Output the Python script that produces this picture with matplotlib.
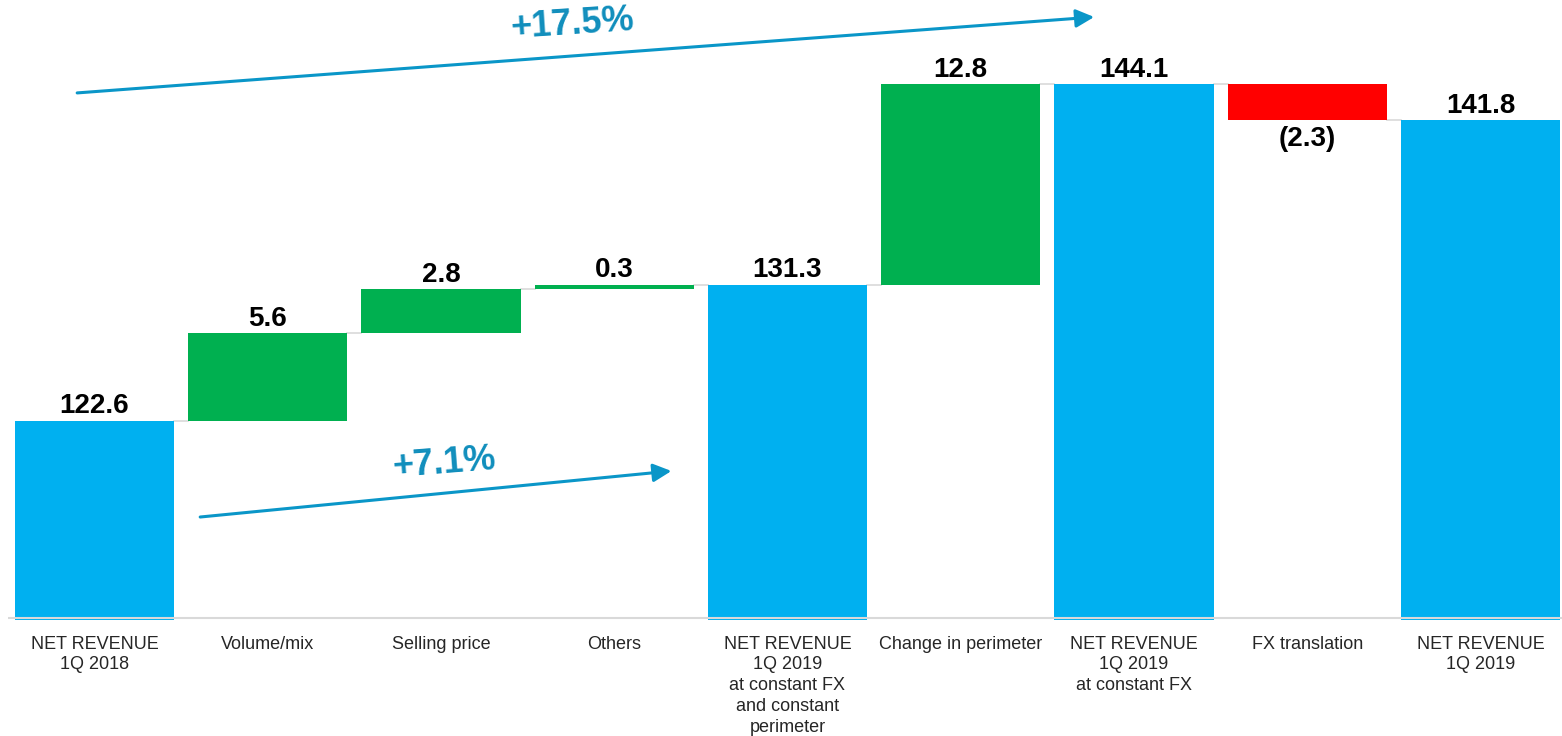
import numpy as np
import matplotlib
matplotlib.use("Agg")
import matplotlib.pyplot as plt

plt.rcParams["font.family"] = ["Liberation Sans", "DejaVu Sans"]

# bridge steps, 1Q 2018 -> 1Q 2019 net revenue
categories = [
    "NET REVENUE\n1Q 2018",
    "Volume/mix",
    "Selling price",
    "Others",
    "NET REVENUE\n1Q 2019\nat constant FX\nand constant\nperimeter",
    "Change in perimeter",
    "NET REVENUE\n1Q 2019\nat constant FX",
    "FX translation",
    "NET REVENUE\n1Q 2019",
]
values = [122.6, 5.6, 2.8, 0.3, 131.3, 12.8, 144.1, -2.3, 141.8]
is_total = [True, False, False, False, True, False, True, False, True]

# growth arrows: (x0, y0, x1, y1), label, label position, angle
growth_arrows = [
    ((-0.10, 143.55, 5.77, 148.40), "+17.5%", (2.76, 147.95), 3.8),
    ((0.61, 116.45, 3.33, 119.39), "+7.1%", (2.02, 119.85), 4.5),
]

BLUE = "#00B0F0"
GREEN = "#00B050"
RED = "#FF0000"
GRID = "#D9D9D9"
ARROW = "#0A96C8"
FLOOR = 109.85

fig = plt.figure(figsize=(15.62, 7.36), dpi=100)
ax = fig.add_axes([0.00504, 0.1572, 0.99824, 0.8537])

width = 0.918
x = np.arange(len(values))
running = 0.0
levels = []
for i, (v, tot) in enumerate(zip(values, is_total)):
    if tot:
        bottom, top = FLOOR, v
        color = BLUE
        running = v
    else:
        bottom, top = running, running + v
        color = GREEN if v >= 0 else RED
        running = top
        bottom, top = min(bottom, top), max(bottom, top)
    ax.bar(x[i], top - bottom, bottom=bottom, width=width, color=color,
           zorder=2, linewidth=0)
    levels.append(running)

    if v >= 0:
        ax.annotate(f"{abs(v):.1f}", (x[i], top), xytext=(0, 1),
                    textcoords="offset points", ha="center", va="bottom",
                    fontsize=20, fontweight="bold", color="black")
    else:
        ax.annotate(f"({abs(v):.1f})", (x[i], bottom), xytext=(0, -4),
                    textcoords="offset points", ha="center", va="top",
                    fontsize=20, fontweight="bold", color="black")

# connectors between neighbouring bars
for i in range(len(values) - 1):
    ax.plot([x[i] + width / 2, x[i + 1] - width / 2], [levels[i], levels[i]],
            color=GRID, lw=1.2, zorder=1)

ax.axhline(110, color=GRID, lw=1.5, zorder=3)

for (x0, y0, x1, y1), label, (tx, ty), ang in growth_arrows:
    ax.annotate("", xy=(x1, y1), xytext=(x0, y0),
                arrowprops=dict(arrowstyle="-|>,head_length=1.1,head_width=0.55",
                                color=ARROW, lw=2.2, shrinkA=0, shrinkB=0))
    ax.text(tx, ty, label, ha="center", va="center", rotation=ang,
            rotation_mode="anchor", fontsize=26, fontweight="bold",
            color="#108EBC")

ax.set_xlim(-0.5, len(values) - 0.5)
ax.set_ylim(FLOOR, 150)
ax.set_xticks(x)
ax.set_xticklabels(categories, fontsize=13, color="#262626", linespacing=1.3,
                   va="top")
ax.tick_params(axis="x", length=0, pad=11)
ax.set_yticks([])
for s in ax.spines.values():
    s.set_visible(False)

fig.savefig("out.png", dpi=100)
